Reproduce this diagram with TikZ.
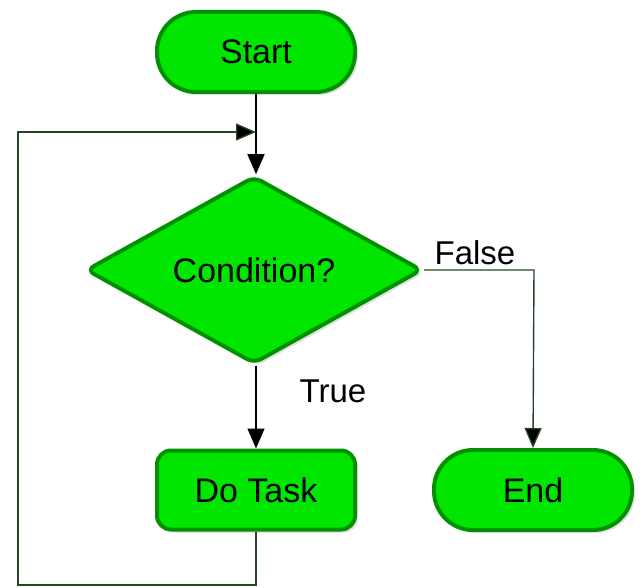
\documentclass[tikz,border=0pt]{standalone}
\usepackage{fontspec}
\setmainfont{Liberation Sans}
\usetikzlibrary{shapes.geometric,arrows.meta,shadows,calc}

\definecolor{boxfill}{RGB}{0,230,0}
\definecolor{boxedge}{RGB}{0,145,0}
\definecolor{wire}{RGB}{35,70,35}

\tikzset{
  flowbox/.style={fill=boxfill, draw=boxedge, line width=4pt,
    drop shadow={shadow xshift=3pt, shadow yshift=-3pt, opacity=0.25, fill=black!50},
    font=\fontsize{34}{40}\selectfont, inner sep=0pt},
  terminal/.style={flowbox, rectangle, rounded corners=39pt,
    minimum width=198pt, minimum height=80pt},
  process/.style={flowbox, rectangle, rounded corners=14pt,
    minimum width=198pt, minimum height=79pt},
  decision/.style={flowbox, diamond, rounded corners=8pt,
    minimum width=336pt, minimum height=186pt},
  wirestyle/.style={draw=wire, line width=1.4pt,
    -{Triangle[length=20pt,width=17pt,fill=black]}},
  label/.style={font=\fontsize{33}{40}\selectfont, inner sep=0pt}
}

\begin{document}
\begin{tikzpicture}[x=1pt, y=-1pt]
  \useasboundingbox (0,0) rectangle (643,588);

  \node[terminal] (start) at (256,52) {Start};
  \node[decision] (cond) at (254,270) {Condition?};
  \node[process] (task) at (256,490) {Do Task};
  \node[terminal] (stop) at (533,490) {End};

  \coordinate (join) at (256,132);
  \coordinate (loopA) at (256,585);
  \coordinate (loopB) at (18,585);
  \coordinate (loopC) at (18,132);
  \coordinate (turn) at (534,270);

  % main line from Start down to the decision
  \draw[wirestyle, draw=black] (start.south) -- (start.south |- cond.north);

  % True branch
  \draw[wirestyle, draw=black] (cond.south -| task.north) -- (task.north);
  \node[label] (truelbl) at (333,391) {True};

  % False branch
  \draw[wirestyle] (cond.east) -- (turn) -- (stop.north);
  \node[label] (falselbl) at (475,253) {False};

  % loop back from the task to above the decision
  \draw[wirestyle] (task.south) -- (loopA) -- (loopB) -- (loopC) -- (join);
\end{tikzpicture}
\end{document}
